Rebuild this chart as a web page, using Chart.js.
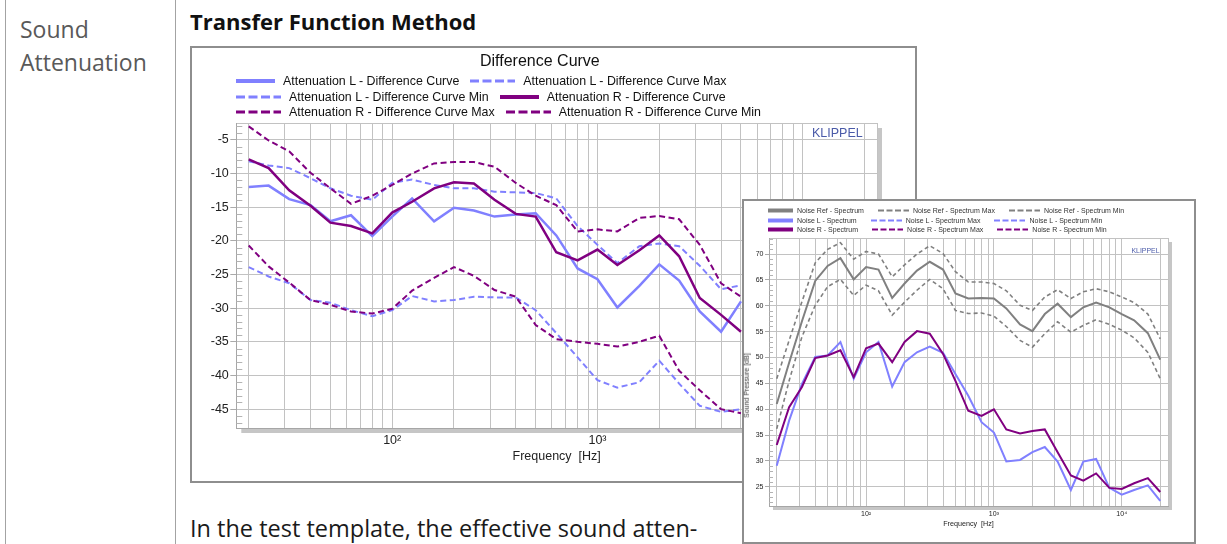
<!DOCTYPE html>
<html>
<head>
<meta charset="utf-8">
<script src="https://cdn.jsdelivr.net/npm/chart.js@4.4.1/dist/chart.umd.min.js"></script>
<style>
 html,body{margin:0;padding:0;background:#fff;}
 body{position:relative;width:1227px;height:544px;overflow:hidden;font-family:"Liberation Sans",Arial,sans-serif;}
 .vline{position:absolute;top:0;width:1px;height:544px;background:#a3a3a3;}
 .doc{position:absolute;font-family:"Open Sans",sans-serif;white-space:nowrap;}
 .box{position:absolute;border:2px solid #8e8e8e;box-sizing:border-box;background:#fff;}
 .box canvas{position:absolute;left:0;top:0;}
 .txt{position:absolute;white-space:nowrap;line-height:1;}
 .lgrow{position:absolute;display:flex;align-items:center;white-space:nowrap;}
 .lgrow svg{display:block;flex:none;}
</style>
</head>
<body>
<div class="vline" style="left:5px"></div>
<div class="vline" style="left:175px"></div>
<div class="doc" style="left:20px;top:12.6px;font-size:23px;line-height:33px;color:#595959;">Sound<br>Attenuation</div>
<div class="doc" style="left:190px;top:9.8px;font-size:22px;line-height:22px;font-weight:700;color:#111;">Transfer Function Method</div>
<div class="doc" style="left:190px;top:515.6px;font-size:23.5px;line-height:24px;color:#1a1a1a;">In the test template, the effective sound atten-</div>

<div class="box" id="box1" style="left:190px;top:46px;width:727px;height:437px;">
  <canvas id="mainChart" width="723" height="433" style="width:723px;height:433px"></canvas>
</div>
<div class="box" id="box2" style="left:742px;top:199px;width:454px;height:345px;">
  <canvas id="insetChart" width="450" height="341" style="width:450px;height:341px"></canvas>
</div>

<script>
// ---------------- DATA ----------------
// 1/3-octave band centre frequencies [Hz]
const freqs = [20,25,31.5,40,50,63,80,100,125,160,200,250,315,400,500,630,800,1000,1250,1600,2000,2500,3150,4000,5000,6300,8000,10000,12500,16000,20000];

// Difference Curve chart [dB] (points hidden behind the inset chart are not readable -> null)
const attLCurve = [-12.0,-11.8,-13.8,-14.7,-17.1,-16.2,-19.3,-16.4,-13.7,-17.1,-15.1,-15.5,-16.4,-16.1,-15.9,-19.2,-24.1,-25.7,-29.9,-26.7,-23.5,-25.9,-30.5,-33.5,-29.0,null,null,null,null,null,null];
const attLMax   = [-8.2,-8.8,-9.2,-10.7,-12.2,-13.3,-13.9,-11.4,-10.9,-11.7,-12.2,-12.2,-12.7,-12.8,-12.9,-13.7,-17.8,-20.6,-23.3,-20.8,-20.4,-20.8,-23.7,-27.2,-26.6,null,null,null,null,null,null];
const attLMin   = [-23.9,-25.3,-26.3,-28.8,-29.2,-30.3,-31.2,-30.3,-28.2,-29.0,-28.8,-28.3,-28.4,-28.4,-30.3,-33.7,-37.3,-40.7,-41.8,-41.0,-37.8,-41.2,-44.5,-45.4,-45.0,null,null,null,null,null,null];
const attRCurve = [-7.9,-9.2,-12.5,-14.8,-17.3,-17.8,-18.9,-15.8,-14.2,-12.2,-11.3,-11.5,-13.9,-16.0,-16.4,-21.7,-22.9,-21.3,-23.6,-21.4,-19.2,-22.3,-28.5,-31.0,-33.5,null,null,null,null,null,null];
const attRMax   = [-3.0,-5.1,-6.7,-9.9,-12.2,-14.5,-13.3,-11.7,-10.0,-8.5,-8.3,-8.3,-9.0,-11.4,-13.3,-14.7,-18.6,-18.3,-18.6,-16.6,-16.3,-16.8,-20.6,-26.3,-28.3,null,null,null,null,null,null];
const attRMin   = [-20.7,-23.8,-26.2,-28.8,-29.5,-30.5,-30.8,-30.1,-27.4,-25.5,-23.9,-25.2,-27.3,-28.3,-32.5,-34.6,-35.0,-35.3,-35.7,-35.0,-34.1,-39.3,-42.2,-45.0,-45.6,null,null,null,null,null,null];

// Noise spectrum chart (inset) [dB]
const noiseRef    = [41.0,49.0,57.0,64.8,67.7,69.2,65.1,67.5,67.0,61.5,64.3,66.8,68.5,67.0,62.4,61.4,61.5,61.4,59.5,56.4,55.1,58.4,60.4,57.8,59.7,60.6,59.7,58.4,57.2,54.7,49.6];
const noiseRefMax = [45.9,53.3,60.8,68.3,70.9,72.2,69.0,70.5,70.0,65.6,67.9,70.0,71.6,70.1,66.6,64.6,64.6,64.3,62.9,60.1,59.1,61.7,63.1,61.4,62.7,63.3,62.7,61.7,60.6,58.4,53.6];
const noiseRefMin = [36.2,45.5,54.0,60.1,63.7,65.1,62.0,64.0,62.9,58.2,60.7,63.0,65.1,63.3,59.1,58.5,58.6,58.0,56.0,53.3,52.0,54.6,56.9,54.9,56.2,57.3,56.4,55.3,53.8,51.0,45.9];
const noiseL      = [29.1,37.8,44.9,50.1,50.4,53.0,45.9,51.0,53.0,44.4,49.1,51.0,52.1,50.9,46.8,42.6,37.5,35.5,29.9,30.2,31.7,32.7,29.9,24.4,29.9,30.4,24.8,23.5,24.4,25.3,22.3];
const noiseLMax   = [];
const noiseLMin   = [];
const noiseR      = [33.1,40.4,44.3,49.9,50.4,51.4,46.2,51.8,52.7,49.1,53.0,55.1,54.6,50.7,45.5,39.7,38.7,40.0,36.1,35.3,35.8,36.1,31.7,27.2,26.2,27.6,24.8,24.6,25.7,26.7,24.0];
const noiseRMax   = [];
const noiseRMin   = [];

// series names
const mainNames  = ['Attenuation L - Difference Curve','Attenuation L - Difference Curve Max','Attenuation L - Difference Curve Min','Attenuation R - Difference Curve','Attenuation R - Difference Curve Max','Attenuation R - Difference Curve Min'];
const insetNames = ['Noise Ref - Spectrum','Noise Ref - Spectrum Max','Noise Ref - Spectrum Min','Noise L - Spectrum','Noise L - Spectrum Max','Noise L - Spectrum Min','Noise R - Spectrum','Noise R - Spectrum Max','Noise R - Spectrum Min'];

// tick labels
const decadeValues = [100, 1000, 10000];
const decadeLabels = ['10\u00B2','10\u00B3','10\u2074'];

// axis ranges
const xMin = 17.4, xMax = 23000;
const mainYMin = -47.8, mainYMax = -2.5;
const insetYMin = 21.3, insetYMax = 73.1;

// ---------------- STYLES ----------------
const FONT = '"Liberation Sans", Arial, sans-serif';
const BLUE = '#8080ff', PURPLE = '#800080', GREY = '#808080';

const mainSeries = [
  {label: mainNames[0], data: attLCurve, color: BLUE,   width: 2.5, dash: [],    order: 1},
  {label: mainNames[1], data: attLMax,   color: BLUE,   width: 2,   dash: [6,3.5], order: 3},
  {label: mainNames[2], data: attLMin,   color: BLUE,   width: 2,   dash: [6,3.5], order: 3},
  {label: mainNames[3], data: attRCurve, color: PURPLE, width: 2.5, dash: [],    order: 0},
  {label: mainNames[4], data: attRMax,   color: PURPLE, width: 2,   dash: [6,3.5], order: 2},
  {label: mainNames[5], data: attRMin,   color: PURPLE, width: 2,   dash: [6,3.5], order: 2}
];
const insetSeries = [
  {label: insetNames[0], data: noiseRef,    color: GREY,   width: 2,   dash: [],    order: 3},
  {label: insetNames[1], data: noiseRefMax, color: GREY,   width: 1.6, dash: [4,3], order: 4},
  {label: insetNames[2], data: noiseRefMin, color: GREY,   width: 1.6, dash: [4,3], order: 4},
  {label: insetNames[3], data: noiseL,      color: BLUE,   width: 2,   dash: [],    order: 1},
  {label: insetNames[4], data: noiseLMax,   color: BLUE,   width: 1.6, dash: [4,3], order: 5},
  {label: insetNames[5], data: noiseLMin,   color: BLUE,   width: 1.6, dash: [4,3], order: 5},
  {label: insetNames[6], data: noiseR,      color: PURPLE, width: 2,   dash: [],    order: 0},
  {label: insetNames[7], data: noiseRMax,   color: PURPLE, width: 1.6, dash: [4,3], order: 5},
  {label: insetNames[8], data: noiseRMin,   color: PURPLE, width: 1.6, dash: [4,3], order: 5}
];

// ---------------- HELPERS ----------------
function xy(arr){ return arr.map((v,i)=>({x: freqs[i], y: v})); }
function isMult5(v){ return Math.abs(v/5 - Math.round(v/5)) < 1e-6; }
function decadeLabel(v){ const i = decadeValues.findIndex(d => Math.abs(d - v) < 1e-6*d); return i < 0 ? '' : decadeLabels[i]; }
function keepGridTicks(axis){
  axis.ticks = axis.ticks.filter(t => {
    if (Math.abs(t.value - axis.min) < 1e-9 || Math.abs(t.value - axis.max) < 1e-9) return true;
    const e = Math.floor(Math.log10(t.value) + 1e-9);
    const m = t.value / Math.pow(10, e);
    return Math.abs(m - Math.round(m)) < 1e-6;
  });
}

const framePlugin = {
  id: 'frame',
  beforeDraw(chart, args, o){
    const a = chart.chartArea, ctx = chart.ctx;
    ctx.save();
    ctx.fillStyle = o.shadow;
    ctx.fillRect(a.left + o.off, a.top + o.off, a.right - a.left, a.bottom - a.top);
    ctx.fillStyle = '#fff';
    ctx.fillRect(a.left, a.top, a.right - a.left, a.bottom - a.top);
    ctx.restore();
  },
  beforeDatasetsDraw(chart, args, o){
    const a = chart.chartArea, ctx = chart.ctx, y = chart.scales.y;
    ctx.save();
    ctx.strokeStyle = o.minorColor; ctx.lineWidth = 1; ctx.beginPath();
    for (let v = Math.ceil(y.min); v <= Math.floor(y.max); v++){
      if (isMult5(v)) continue;
      const py = Math.round(y.getPixelForValue(v)) + 0.5;
      ctx.moveTo(a.left, py); ctx.lineTo(a.left + o.len, py);
    }
    ctx.stroke(); ctx.restore();
  }
};

function makeChart(id, series, c){
  return new Chart(document.getElementById(id), {
    type: 'line',
    data: { datasets: series.map(s => ({
      label: s.label, data: xy(s.data), borderColor: s.color, backgroundColor: s.color,
      borderWidth: s.width, borderDash: s.dash, pointRadius: 0, pointHoverRadius: 0,
      tension: 0, fill: false, order: s.order, spanGaps: false
    })) },
    plugins: [framePlugin],
    options: {
      responsive: false, animation: false, events: [],
      layout: { padding: c.padding },
      plugins: {
        legend: { display: false }, title: { display: false }, tooltip: { enabled: false },
        frame: { shadow: '#c6c6c6', off: c.shadowOff, len: c.minorLen, minorColor: '#b3b3b3' }
      },
      scales: {
        x: {
          type: 'logarithmic', min: xMin, max: xMax,
          afterBuildTicks: keepGridTicks,
          afterFit: a => { a.height = c.xHeight; },
          grid: { color: '#c2c2c2', lineWidth: 1, drawTicks: false },
          border: { color: '#a6a6a6', width: 1 },
          ticks: { autoSkip: false, maxRotation: 0, minRotation: 0, padding: c.xPad, color: '#222',
                   font: { family: FONT, size: c.tickSize }, callback: v => decadeLabel(v) },
          title: { display: true, text: 'Frequency  [Hz]', color: '#222',
                   font: { family: FONT, size: c.titleSize }, padding: { top: 0, bottom: c.titlePad } }
        },
        y: {
          min: c.yMin, max: c.yMax,
          afterFit: a => { a.width = c.yWidth; },
          grid: { color: '#c2c2c2', lineWidth: 1, drawTicks: true, tickLength: c.tickLen,
                  tickColor: ctx => (ctx.tick && isMult5(ctx.tick.value)) ? '#aaaaaa' : 'rgba(0,0,0,0)' },
          border: { color: '#a6a6a6', width: 1 },
          ticks: { stepSize: 5, maxTicksLimit: 40, autoSkip: false, padding: c.yPad, color: '#222',
                   font: { family: FONT, size: c.tickSize }, callback: v => isMult5(v) ? String(Math.round(v)) : '' }
        }
      }
    }
  });
}

makeChart('mainChart', mainSeries, {
  padding: { left: 6, top: 75, right: 38, bottom: 13 },
  xHeight: 40, yWidth: 38.3, xPad: 5, yPad: 1.5, tickLen: 6,
  tickSize: 12.5, titleSize: 12.5, titlePad: 4,
  yMin: mainYMin, yMax: mainYMax, shadowOff: 5, minorLen: 6
});
makeChart('insetChart', insetSeries, {
  padding: { left: 3, top: 37, right: 26, bottom: 6 },
  xHeight: 30, yWidth: 22, xPad: 4, yPad: 1.5, tickLen: 4,
  tickSize: 7, titleSize: 7.2, titlePad: 7.5,
  yMin: insetYMin, yMax: insetYMax, shadowOff: 4, minorLen: 4
});

// ---------------- LEGENDS (HTML, built from the series) ----------------
function buildLegend(rows, series, st){
  const ns = 'http://www.w3.org/2000/svg';
  rows.forEach((row, r) => {
    const div = document.createElement('div');
    div.className = 'lgrow';
    div.style.left = st.left + 'px';
    div.style.top = (st.rowY[r] - st.h/2) + 'px';
    div.style.height = st.h + 'px';
    div.style.font = st.font;
    div.style.color = st.color;
    row.forEach((idx, k) => {
      const s = series[idx];
      const dashed = s.dash.length > 0;
      const w = dashed ? st.dashW : st.solidW;
      const svg = document.createElementNS(ns, 'svg');
      svg.setAttribute('width', w); svg.setAttribute('height', st.h);
      const ln = document.createElementNS(ns, 'line');
      ln.setAttribute('x1', 0); ln.setAttribute('x2', w);
      ln.setAttribute('y1', st.h/2); ln.setAttribute('y2', st.h/2);
      ln.setAttribute('stroke', s.color);
      ln.setAttribute('stroke-width', dashed ? st.dashLW : st.solidLW);
      if (dashed) ln.setAttribute('stroke-dasharray', st.dashPat);
      svg.appendChild(ln);
      if (k > 0) svg.style.marginLeft = st.itemGap + 'px';
      div.appendChild(svg);
      const sp = document.createElement('span');
      sp.textContent = s.label;
      sp.style.marginLeft = st.textGap + 'px';
      div.appendChild(sp);
    });
    document.body.appendChild(div);
  });
}
buildLegend([[0,1],[2,3],[4,5]], mainSeries, {
  left: 236, rowY: [81, 96.7, 111.7], h: 14, font: '12.4px ' + FONT, color: '#111',
  solidW: 39, dashW: 45, textGap: 8, itemGap: 11, solidLW: 4, dashLW: 3, dashPat: '9 3.5'
});
buildLegend([[0,1,2],[3,4,5],[6,7,8]], insetSeries, {
  left: 768, rowY: [210.3, 220, 229.7], h: 9, font: '7px ' + FONT, color: '#333',
  solidW: 25, dashW: 31, textGap: 4, itemGap: 14, solidLW: 4, dashLW: 2, dashPat: '6 2.5'
});

// ---------------- OTHER TEXT ----------------
function addText(txt, css){
  const d = document.createElement('div');
  d.className = 'txt'; d.textContent = txt;
  Object.assign(d.style, css);
  document.body.appendChild(d);
  return d;
}
addText('Difference Curve', {left: '480px', top: '52px', font: '16px ' + FONT, color: '#111'});
addText('KLIPPEL', {left: '812px', top: '126px', font: '12.5px ' + FONT, color: '#4a5aa8'});
addText('KLIPPEL', {left: '1131.5px', top: '247px', font: '6.9px ' + FONT, color: '#4a5aa8'});
const sp = addText('Sound Pressure [dB]', {left: '0px', top: '0px', font: '7px ' + FONT, color: '#333'});
const w = sp.offsetWidth, h = sp.offsetHeight;
sp.style.left = (746.7 - w/2) + 'px';
sp.style.top = (385 - h/2) + 'px';
sp.style.transform = 'rotate(-90deg)';
</script>
</body>
</html>
